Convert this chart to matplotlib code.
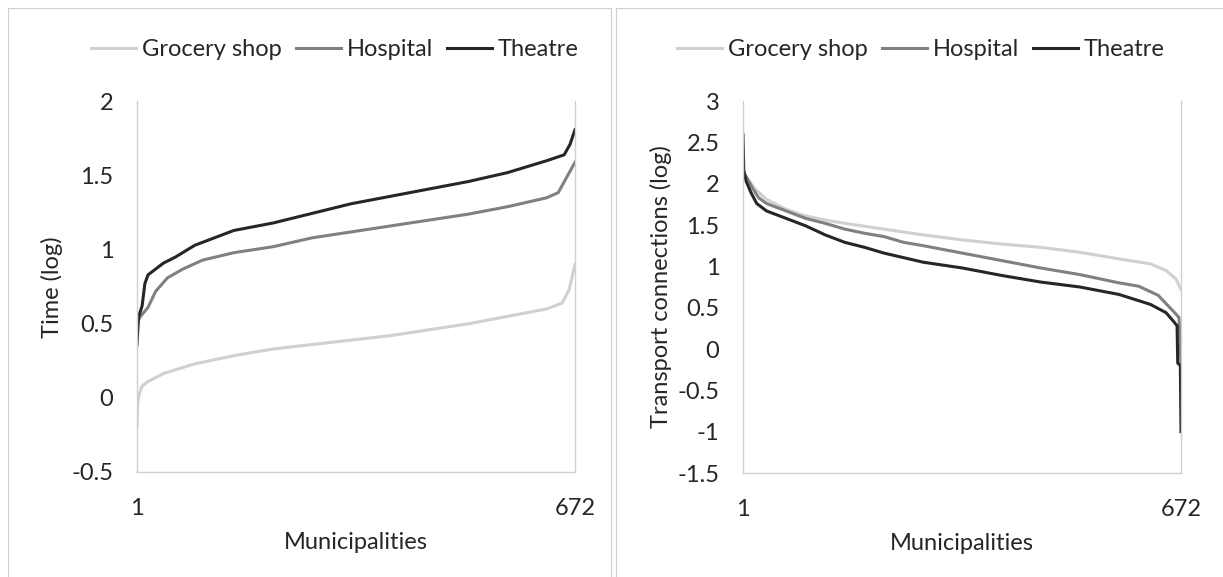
import matplotlib
matplotlib.use("Agg")
import matplotlib.pyplot as plt
from matplotlib.lines import Line2D

plt.rcParams["font.family"] = ["Lato", "DejaVu Sans"]

SERIES = ["Grocery shop", "Hospital", "Theatre"]
COLORS = ["#d0d0d0", "#808080", "#262626"]

# left panel: travel time (log), municipalities ranked ascending
time_grocery_x = [1, 2.2, 4.6, 8.8, 17.8, 41.7, 89.6, 149.5, 209.3, 269.2, 329, 388.9,
                  448.8, 508.6, 568.5, 628.3, 652.3, 663, 672]
time_grocery_y = [-0.19, -0.03, 0.03, 0.08, 0.11, 0.165, 0.23, 0.285, 0.33, 0.36, 0.39, 0.42,
                  0.46, 0.50, 0.55, 0.60, 0.64, 0.73, 0.90]

time_hospital_x = [1, 5.8, 17.8, 29.7, 47.7, 71.6, 101.6, 149.5, 209.3, 269.2, 329, 388.9,
                   448.8, 508.6, 568.5, 628.3, 646.3, 672]
time_hospital_y = [0.50, 0.547, 0.61, 0.72, 0.81, 0.87, 0.93, 0.98, 1.02, 1.08, 1.12, 1.16,
                   1.20, 1.24, 1.29, 1.35, 1.385, 1.59]

time_theatre_x = [1, 3.4, 8.8, 13, 17.8, 26.7, 41.7, 59.7, 89.6, 119.5, 149.5, 209.3, 269.2,
                  329, 388.9, 448.8, 508.6, 568.5, 628.3, 655.3, 664.3, 672]
time_theatre_y = [0.36, 0.547, 0.62, 0.77, 0.83, 0.86, 0.91, 0.95, 1.03, 1.08, 1.13, 1.18,
                  1.245, 1.31, 1.36, 1.41, 1.46, 1.52, 1.60, 1.64, 1.71, 1.81]

# right panel: transport connections (log), municipalities ranked descending
conn_grocery_x = [1, 7, 19, 37, 67, 97, 127, 157, 217, 277, 337, 397, 457, 517, 577, 625,
                  649, 664, 672]
conn_grocery_y = [2.14, 2.07, 1.94, 1.81, 1.69, 1.61, 1.56, 1.52, 1.45, 1.38, 1.32, 1.27,
                  1.23, 1.17, 1.09, 1.03, 0.95, 0.85, 0.72]

conn_hospital_x = [1, 7, 16, 25, 37, 67, 97, 127, 157, 187, 217, 247, 277, 337, 397, 457,
                   517, 577, 607, 637, 661, 669, 672]
conn_hospital_y = [2.15, 2.07, 1.94, 1.83, 1.76, 1.67, 1.58, 1.52, 1.45, 1.40, 1.36, 1.29,
                   1.25, 1.16, 1.07, 0.98, 0.90, 0.80, 0.76, 0.65, 0.45, 0.38, -0.17]

conn_theatre_x = [1, 2.2, 5.8, 13, 22, 37, 67, 97, 127, 157, 187, 217, 277, 337, 397, 457,
                  517, 577, 625, 649, 661, 666, 667, 671, 672]
conn_theatre_y = [2.59, 2.16, 2.03, 1.895, 1.76, 1.67, 1.58, 1.49, 1.38, 1.29, 1.23, 1.16,
                  1.05, 0.98, 0.89, 0.81, 0.75, 0.66, 0.54, 0.44, 0.33, 0.28, -0.17, -0.2, -1.0]

TIME_TICKS = [-0.5, 0, 0.5, 1, 1.5, 2]
CONN_TICKS = [-1.5, -1, -0.5, 0, 0.5, 1, 1.5, 2, 2.5, 3]
X_TICKS = [1, 672]

FS = 17
TXT = "#262626"
GRID = "#d0d0d0"

fig = plt.figure(figsize=(12.23, 5.77), dpi=100)

# chart area borders (Excel style)
W, H = 1223, 577
for x0, x1 in [(8, 611), (616, 1230)]:
    fig.add_artist(Line2D([x0 / W, x0 / W], [0, 1 - 8 / H], color=GRID, lw=0.8))
    fig.add_artist(Line2D([x0 / W, x1 / W], [1 - 8 / H, 1 - 8 / H], color=GRID, lw=0.8))
fig.add_artist(Line2D([611 / W, 611 / W], [0, 1 - 8 / H], color=GRID, lw=0.8))


def fmt(v):
    return f"{v:g}"


def style(ax, ticks, ylabel, label_x):
    ax.set_xlim(1, 672)
    ax.set_ylim(ticks[0], ticks[-1])
    ax.set_xticks(X_TICKS)
    ax.set_xticklabels([str(t) for t in X_TICKS])
    ax.set_yticks(ticks)
    ax.set_yticklabels([fmt(t) for t in ticks])
    ax.tick_params(axis="both", length=0, labelsize=FS, colors=TXT)
    ax.tick_params(axis="y", pad=17)
    ax.tick_params(axis="x", pad=19)
    for side in ["left", "right", "bottom"]:
        ax.spines[side].set_color(GRID)
        ax.spines[side].set_linewidth(1.0)
    ax.spines["top"].set_visible(False)
    ax.set_ylabel(ylabel, fontsize=FS, color=TXT)
    ax.yaxis.set_label_coords(label_x, 0.5)
    ax.yaxis.label.set_va("center")
    ax.set_xlabel("Municipalities", fontsize=FS, color=TXT)
    ax.xaxis.set_label_coords(0.5, -0.19)
    ax.xaxis.label.set_va("center")


ax1 = fig.add_axes([137 / W, 1 - 472 / H, 438 / W, 370.5 / H])
ax2 = fig.add_axes([743 / W, 1 - 473 / H, 438 / W, 372 / H])

left = [(time_grocery_x, time_grocery_y), (time_hospital_x, time_hospital_y),
        (time_theatre_x, time_theatre_y)]
right = [(conn_grocery_x, conn_grocery_y), (conn_hospital_x, conn_hospital_y),
         (conn_theatre_x, conn_theatre_y)]

for ax, data in [(ax1, left), (ax2, right)]:
    for (xs, ys), name, c in zip(data, SERIES, COLORS):
        ax.plot(xs, ys, color=c, lw=2.2, label=name, solid_joinstyle="round")

style(ax1, TIME_TICKS, "Time (log)", -0.194)
style(ax2, CONN_TICKS, "Transport connections (log)", -0.187)

for ax, cx in [(ax1, 335 / W), (ax2, 921 / W)]:
    ax.legend(loc="center", bbox_to_anchor=(cx, 1 - 50 / H), bbox_transform=fig.transFigure,
              ncol=3, frameon=False, fontsize=FS, handlelength=1.9, handletextpad=0.25,
              columnspacing=0.6, labelcolor=TXT)

fig.savefig("out.png", dpi=100)
